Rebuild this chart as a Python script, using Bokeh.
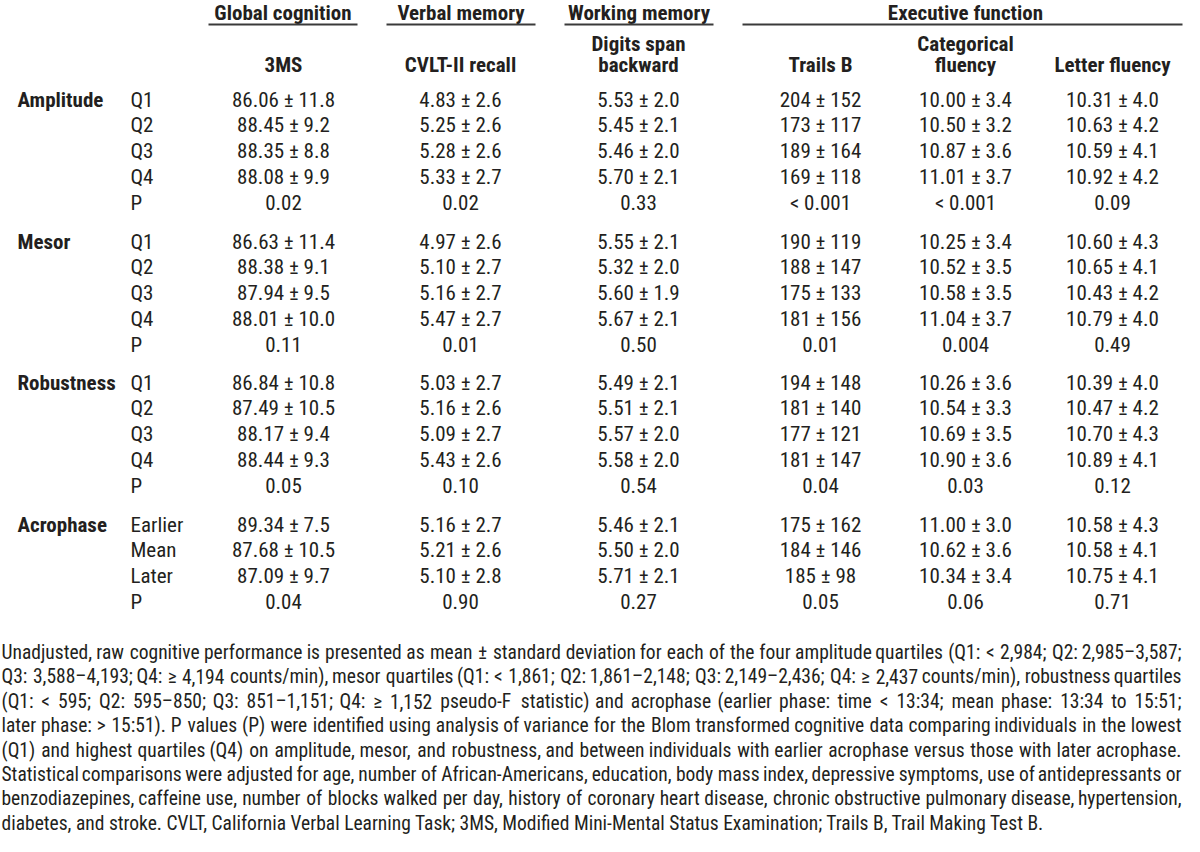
from bokeh.plotting import figure
from bokeh.models import Range1d, ColumnDataSource
from bokeh.core.properties import value
from bokeh.embed import file_html
from bokeh.resources import INLINE

FONT = "Roboto Condensed, DejaVu Sans Condensed, Liberation Sans"
INK = "#231f20"

# ---------------- data ----------------
domains = ["Global cognition", "Verbal memory", "Working memory", "Executive function"]
measures = [["3MS"], ["CVLT-II recall"], ["Digits span", "backward"],
            ["Trails B"], ["Categorical", "fluency"], ["Letter fluency"]]
groups = ["Amplitude", "Mesor", "Robustness", "Acrophase"]
levels = [["Q1", "Q2", "Q3", "Q4", "P"], ["Q1", "Q2", "Q3", "Q4", "P"],
          ["Q1", "Q2", "Q3", "Q4", "P"], ["Earlier", "Mean", "Later", "P"]]

mms_mean = ["86.06", "88.45", "88.35", "88.08", "86.63", "88.38", "87.94", "88.01",
            "86.84", "87.49", "88.17", "88.44", "89.34", "87.68", "87.09"]
mms_sd = ["11.8", "9.2", "8.8", "9.9", "11.4", "9.1", "9.5", "10.0",
          "10.8", "10.5", "9.4", "9.3", "7.5", "10.5", "9.7"]
mms_p = ["0.02", "0.11", "0.05", "0.04"]

cvlt_mean = ["4.83", "5.25", "5.28", "5.33", "4.97", "5.10", "5.16", "5.47",
             "5.03", "5.16", "5.09", "5.43", "5.16", "5.21", "5.10"]
cvlt_sd = ["2.6", "2.6", "2.6", "2.7", "2.6", "2.7", "2.7", "2.7",
           "2.7", "2.6", "2.7", "2.6", "2.7", "2.6", "2.8"]
cvlt_p = ["0.02", "0.01", "0.10", "0.90"]

digits_mean = ["5.53", "5.45", "5.46", "5.70", "5.55", "5.32", "5.60", "5.67",
               "5.49", "5.51", "5.57", "5.58", "5.46", "5.50", "5.71"]
digits_sd = ["2.0", "2.1", "2.0", "2.1", "2.1", "2.0", "1.9", "2.1",
             "2.1", "2.1", "2.0", "2.0", "2.1", "2.0", "2.1"]
digits_p = ["0.33", "0.50", "0.54", "0.27"]

trails_mean = ["204", "173", "189", "169", "190", "188", "175", "181",
               "194", "181", "177", "181", "175", "184", "185"]
trails_sd = ["152", "117", "164", "118", "119", "147", "133", "156",
             "148", "140", "121", "147", "162", "146", "98"]
trails_p = ["< 0.001", "0.01", "0.04", "0.05"]

cat_mean = ["10.00", "10.50", "10.87", "11.01", "10.25", "10.52", "10.58", "11.04",
            "10.26", "10.54", "10.69", "10.90", "11.00", "10.62", "10.34"]
cat_sd = ["3.4", "3.2", "3.6", "3.7", "3.4", "3.5", "3.5", "3.7",
          "3.6", "3.3", "3.5", "3.6", "3.0", "3.6", "3.4"]
cat_p = ["< 0.001", "0.004", "0.03", "0.06"]

let_mean = ["10.31", "10.63", "10.59", "10.92", "10.60", "10.65", "10.43", "10.79",
            "10.39", "10.47", "10.70", "10.89", "10.58", "10.58", "10.75"]
let_sd = ["4.0", "4.2", "4.1", "4.2", "4.3", "4.1", "4.2", "4.0",
          "4.0", "4.2", "4.3", "4.1", "4.3", "4.1", "4.1"]
let_p = ["0.09", "0.49", "0.12", "0.71"]

caption = [
    "Unadjusted, raw cognitive performance is presented as mean ± standard deviation for each of the four amplitude quartiles (Q1: < 2,984; Q2: 2,985–3,587;",
    "Q3: 3,588–4,193; Q4: ≥ 4,194 counts/min), mesor quartiles (Q1: < 1,861; Q2: 1,861–2,148; Q3: 2,149–2,436; Q4: ≥ 2,437 counts/min), robustness quartiles",
    "(Q1: < 595; Q2: 595–850; Q3: 851–1,151; Q4: ≥ 1,152 pseudo-F statistic) and acrophase (earlier phase: time < 13:34; mean phase: 13:34 to 15:51;",
    "later phase: > 15:51). P values (P) were identified using analysis of variance for the Blom transformed cognitive data comparing individuals in the lowest",
    "(Q1) and highest quartiles (Q4) on amplitude, mesor, and robustness, and between individuals with earlier acrophase versus those with later acrophase.",
    "Statistical comparisons were adjusted for age, number of African-Americans, education, body mass index, depressive symptoms, use of antidepressants or",
    "benzodiazepines, caffeine use, number of blocks walked per day, history of coronary heart disease, chronic obstructive pulmonary disease, hypertension,",
    "diabetes, and stroke. CVLT, California Verbal Learning Task; 3MS, Modified Mini-Mental Status Examination; Trails B, Trail Making Test B.",
]

columns = [(mms_mean, mms_sd, mms_p), (cvlt_mean, cvlt_sd, cvlt_p),
           (digits_mean, digits_sd, digits_p), (trails_mean, trails_sd, trails_p),
           (cat_mean, cat_sd, cat_p), (let_mean, let_sd, let_p)]

# ---------------- layout (reference pixel coordinates) ----------------
col_x = [283, 460, 638, 820, 965, 1112]
dom_span = [(208, 357), (386, 535), (564, 713), (742, 1182)]
block_top = [99, 241, 382, 524]
row_step = 25.8
group_x = 17
level_x = 130
TABLE_FS = "21px"

p = figure(width=1184, height=836, output_backend="svg", toolbar_location=None,
           x_range=Range1d(0, 1184), y_range=Range1d(836, 0),
           min_border=0, background_fill_color="white", border_fill_color="white")
p.axis.visible = False
p.grid.visible = False
p.outline_line_color = None

# domain headers + rules
dx = [(a + b) / 2 for a, b in dom_span[:3]] + [965]
p.text(x=dx, y=[12] * len(dx), text=domains, text_font=value(FONT), text_font_size=TABLE_FS,
       text_font_style="bold", text_align="center", text_baseline="middle", text_color=INK)
p.segment(x0=[a for a, b in dom_span], x1=[b for a, b in dom_span],
          y0=[24] * len(dom_span), y1=[24] * len(dom_span), line_color="#3a3a3a", line_width=2)

# measure headers
mx, my, mt = [], [], []
for cx, lines in zip(col_x, measures):
    ys = [64] if len(lines) == 1 else [43, 64]
    for yy, t in zip(ys, lines):
        mx.append(cx); my.append(yy); mt.append(t)
p.text(x=mx, y=my, text=mt, text_font=value(FONT), text_font_size=TABLE_FS,
       text_font_style="bold", text_align="center", text_baseline="middle", text_color=INK)

# row labels and cells
gx, gy, gt = [], [], []
lx, ly, lt = [], [], []
cx_, cy_, ct_ = [], [], []
k = 0
for g, grp in enumerate(groups):
    gx.append(group_x); gy.append(block_top[g]); gt.append(grp)
    for r, lab in enumerate(levels[g]):
        y = block_top[g] + r * row_step
        lx.append(level_x); ly.append(y); lt.append(lab)
        for c, (means, sds, ps) in enumerate(columns):
            cx_.append(col_x[c]); cy_.append(y)
            ct_.append(ps[g] if lab == "P" else f"{means[k]} ± {sds[k]}")
        if lab != "P":
            k += 1

p.text(x=gx, y=gy, text=gt, text_font=value(FONT), text_font_size=TABLE_FS,
       text_font_style="bold", text_align="left", text_baseline="middle", text_color=INK)
p.text(x=lx, y=ly, text=lt, text_font=value(FONT), text_font_size=TABLE_FS,
       text_align="left", text_baseline="middle", text_color=INK)
p.text(x=cx_, y=cy_, text=ct_, text_font=value(FONT), text_font_size=TABLE_FS,
       text_align="center", text_baseline="middle", text_color=INK)

# ---------------- caption (justified word by word) ----------------
# approximate advance widths (Roboto proportions, units of 2048)
W = {c: 1150 for c in "0123456789"}
W.update({' ': 507, ',': 393, '.': 528, ':': 484, ';': 434, '(': 684, ')': 696, '-': 800,
          '–': 1100, '<': 1040, '>': 1066, '≥': 1010, '±': 1090, '/': 842, "'": 350})
W.update(dict(A=1400, B=1278, C=1336, D=1346, E=1166, F=1134, G=1398, H=1462, I=558, J=1132,
              K=1286, L=1102, M=1790, N=1462, O=1410, P=1292, Q=1410, R=1262, S=1216, T=1222,
              U=1330, V=1304, W=1818, X=1284, Y=1230, Z=1226))
W.update(dict(a=1088, b=1122, c=1046, d=1126, e=1058, f=693, g=1122, h=1102, i=486, j=478,
              k=1014, l=486, m=1754, n=1104, o=1140, p=1122, q=1132, r=678, s=1032, t=654,
              u=1102, v=968, w=1502, x=990, y=946, z=990))


def em(s):
    return sum(W.get(ch, 1100) for ch in s) / 2048.0


# calibration: the last caption line measured about 1066 px wide at 20 px in this font
calib = 1066.0 / (em(caption[-1]) * 20.0)
left, right = 1.0, 1181.0
cap_fs = min(20.0, (right - left - 6) / max(em(l) * calib for l in caption[:-1]))
cap_top, cap_step = 652, 24.4

wx, wy, wt, wa = [], [], [], []
for i, line in enumerate(caption[:-1]):
    words = line.split(" ")
    n = len(words)
    widths = [em(w) * calib * cap_fs for w in words]
    gap = (right - left - sum(widths)) / (n - 1)
    y = cap_top + i * cap_step
    half = n // 2
    # first half anchored from the left edge
    x = left
    for j in range(half):
        wx.append(x); wa.append("left"); wy.append(y); wt.append(words[j])
        x += widths[j] + gap
    # second half anchored from the right edge
    xr = right
    tail = []
    for j in range(n - 1, half - 1, -1):
        tail.append((xr, words[j]))
        xr -= widths[j] + gap
    for xx, w in reversed(tail):
        wx.append(xx); wa.append("right"); wy.append(y); wt.append(w)

src = ColumnDataSource(dict(x=wx, y=wy, text=wt, align=wa))
p.text(x="x", y="y", text="text", source=src, text_align="align",
       text_font=value(FONT), text_font_size=f"{cap_fs:.2f}px",
       text_baseline="middle", text_color=INK)
p.text(x=[left], y=[cap_top + (len(caption) - 1) * cap_step], text=[caption[-1]],
       text_font=value(FONT), text_font_size=f"{cap_fs:.2f}px",
       text_align="left", text_baseline="middle", text_color=INK)

open("out.html", "w").write(file_html(p, INLINE))
